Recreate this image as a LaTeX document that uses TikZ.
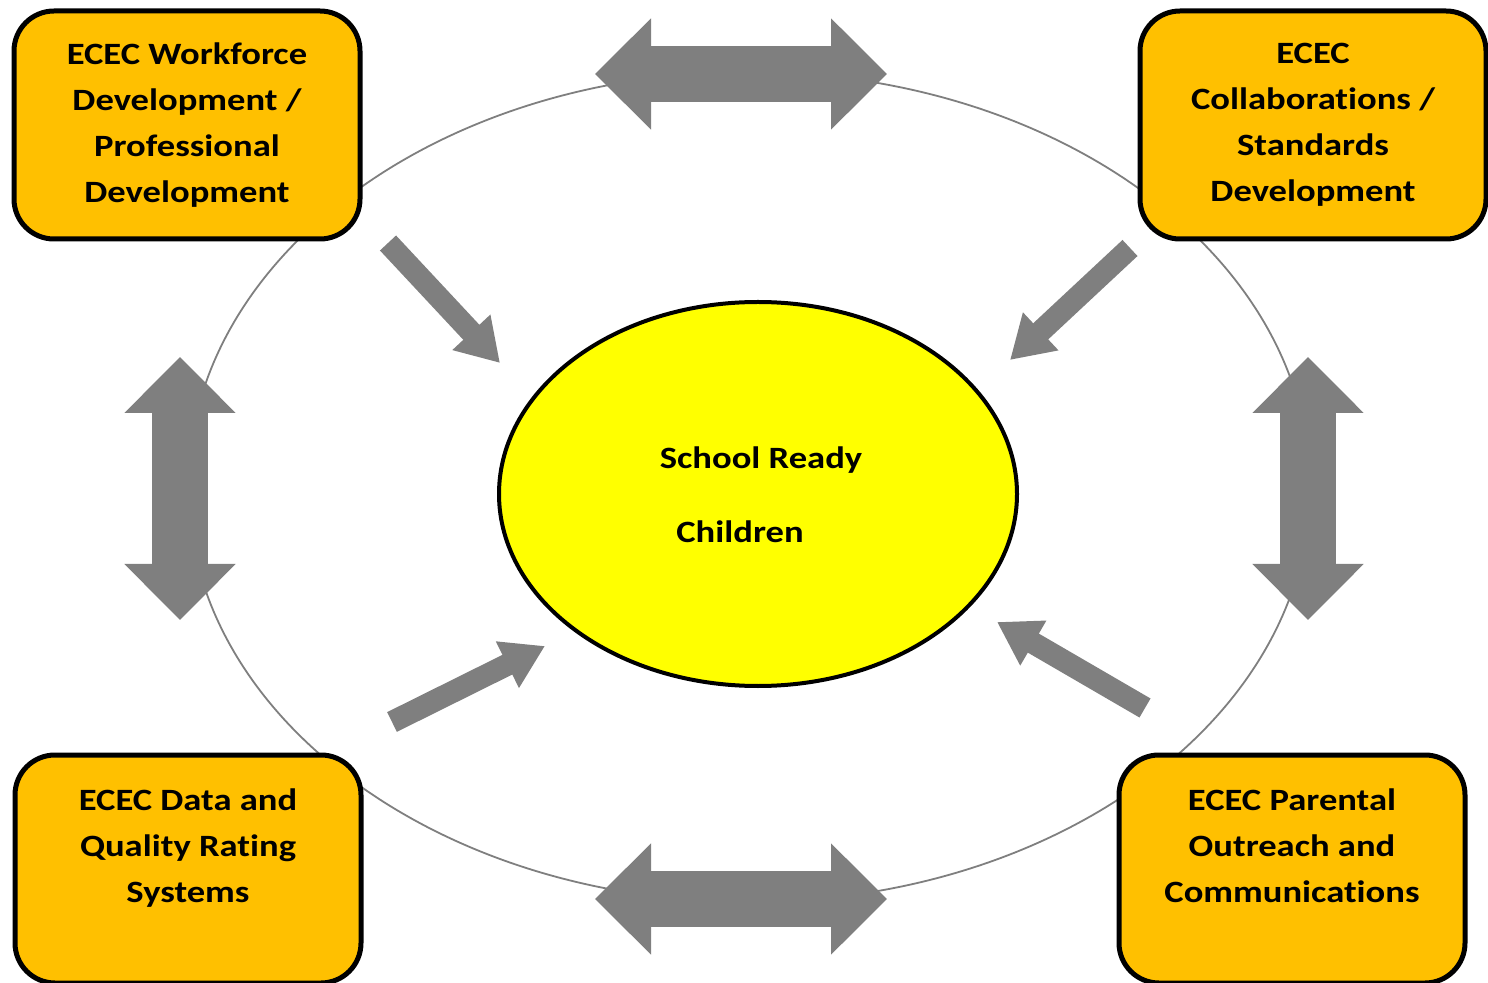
\documentclass[tikz,border=0pt]{standalone}
\usepackage{fontspec}
\setmainfont{Carlito}[FakeStretch=1.18,Ligatures=NoCommon]
\usepackage{tikz}
\usetikzlibrary{arrows.meta,shapes.geometric}
\definecolor{boxorange}{RGB}{255,192,0}
\definecolor{hubyellow}{RGB}{255,255,0}
\definecolor{arrowgray}{RGB}{127,127,127}
\tikzstyle{area}=[
	rectangle,
	rounded corners=20pt,
	draw=black,
	line width=2.5pt,
	fill=boxorange,
	minimum width=173pt,
	minimum height=114pt,
	align=center,
	font=\fontsize{15.5}{23}\selectfont\bfseries
]
\tikzstyle{hub}=[
	ellipse,
	draw=black,
	line width=2pt,
	fill=hubyellow,
	minimum width=259pt,
	minimum height=192pt,
	inner sep=0pt
]
\tikzstyle{ring}=[
	ellipse,
	draw=arrowgray,
	line width=0.9pt,
	minimum width=561pt,
	minimum height=415pt,
	inner sep=0pt
]
\tikzstyle{caption}=[
	inner sep=0pt,
	font=\fontsize{15.5}{23}\selectfont\bfseries
]
\tikzstyle{feed}=[
	draw=arrowgray,
	line width=11pt,
	-{Triangle[width=24.5pt,length=21pt]}
]
\tikzstyle{twoway}=[
	draw=arrowgray,
	line width=28pt,
	{Triangle[width=54pt,length=28pt]}-{Triangle[width=54pt,length=28pt]}
]

\begin{document}
\begin{tikzpicture}[x=0.5pt,y=-0.5pt]
\useasboundingbox (0,0) rectangle (1488,983);

\node[ring] (ring) at (749,487) {};
\node[hub] (hub) at (758,494) {};
\node[caption] (ready) at (761,460) {School Ready};
\node[caption] (kids) at (740,532) {Children};

% the four areas
\node[area] (workforce) at (187,125) {ECEC Workforce\\Development /\\Professional\\Development};
\node[area] (collab) at (1313,125) {ECEC\\Collaborations /\\Standards\\Development};
\node[area] (data) at (188,869) {ECEC Data and\\Quality Rating\\Systems\\\mbox{}};
\node[area] (parent) at (1292,869) {ECEC Parental\\Outreach and\\Communications\\\mbox{}};

% arrows between areas
\coordinate (topL) at (595,74);
\coordinate (topR) at (887,74);
\coordinate (botL) at (595,899);
\coordinate (botR) at (887,899);
\coordinate (leftT) at (180,357);
\coordinate (leftB) at (180,620);
\coordinate (rightT) at (1308,357);
\coordinate (rightB) at (1308,620);
\draw[twoway] (topL) -- (topR);
\draw[twoway] (botL) -- (botR);
\draw[twoway] (leftT) -- (leftB);
\draw[twoway] (rightT) -- (rightB);

% arrows into the centre
\coordinate (nwtail) at (388,243);
\coordinate (nwtip) at (500,363);
\coordinate (netail) at (1130,248);
\coordinate (netip) at (1010,360);
\coordinate (swtail) at (392,722);
\coordinate (swtip) at (545,646);
\coordinate (setail) at (1145,708);
\coordinate (setip) at (997,622);
\draw[feed] (nwtail) -- (nwtip);
\draw[feed] (netail) -- (netip);
\draw[feed] (swtail) -- (swtip);
\draw[feed] (setail) -- (setip);

\end{tikzpicture}
\end{document}
